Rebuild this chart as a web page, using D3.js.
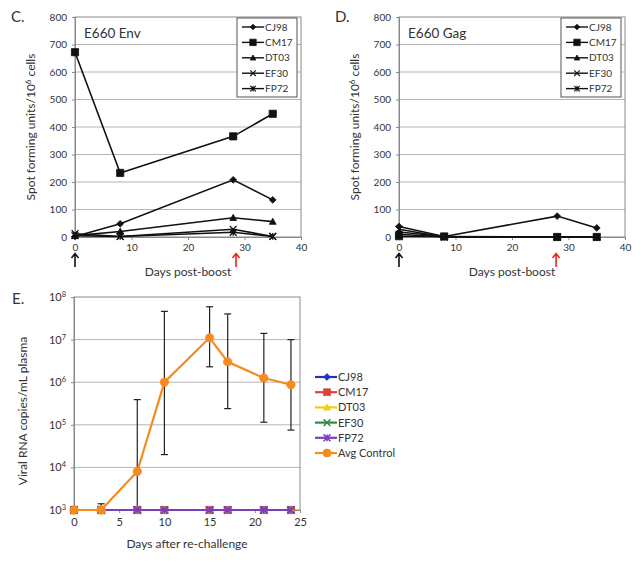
<!DOCTYPE html>
<html><head><meta charset="utf-8">
<script src="https://cdn.jsdelivr.net/npm/d3@7"></script>
<style>
body{margin:0;background:#fff}
svg{display:block}
text{font-family:Lato,"Open Sans",sans-serif;fill:#333}
</style>
</head><body>
<svg id="chart" width="641" height="563"></svg>
<script>
// ---------- data ----------
const seriesNames = ["CJ98", "CM17", "DT03", "EF30", "FP72"];
const seriesMarkers = ["diamond", "square", "triangle", "x", "star"];
const daysBoost = [0, 8, 28, 35];
const boostTicks = [0, 10, 20, 30, 40];
const spotTicks = [0, 100, 200, 300, 400, 500, 600, 700, 800];

const envCJ98 = [2, 48, 208, 135];
const envCM17 = [672, 233, 366, 448];
const envDT03 = [5, 20, 70, 56];
const envEF30 = [12, 2, 28, 2];
const envFP72 = [5, 2, 17, 2];

const gagCJ98 = [38, 2, 76, 33];
const gagCM17 = [3, 2, 0, 0];
const gagDT03 = [18, 2, 0, 0];
const gagEF30 = [10, 0, 0, 0];
const gagFP72 = [28, 0, 0, 0];

const arrowDaysC = [0, 28.5];
const arrowDaysD = [0, 27.8];
const arrowColors = ["#111", "#e8291c"];

const daysChallenge = [0, 3, 7, 10, 15, 17, 21, 24];
const challengeTicks = [0, 5, 10, 15, 20, 25];
const loadTicksExp = [3, 4, 5, 6, 7, 8];
const loadCJ98 = [1e3, 1e3, 1e3, 1e3, 1e3, 1e3, 1e3, 1e3];
const loadCM17 = [1e3, 1e3, 1e3, 1e3, 1e3, 1e3, 1e3, 1e3];
const loadDT03 = [1e3, 1e3, 1e3, 1e3, 1e3, 1e3, 1e3, 1e3];
const loadEF30 = [1e3, 1e3, 1e3, 1e3, 1e3, 1e3, 1e3, 1e3];
const loadFP72 = [1e3, 1e3, 1e3, 1e3, 1e3, 1e3, 1e3, 1e3];
const controlMean = [1e3, 1e3, 8.0e3, 1.0e6, 1.1e7, 3.0e6, 1.25e6, 8.7e5];
const controlUpper = [null, 1.4e3, 3.9e5, 4.6e7, 5.9e7, 4.0e7, 1.4e7, 1.0e7];
const controlLower = [null, 1e3, 1e3, 2.0e4, 2.3e6, 2.4e5, 1.15e5, 7.5e4];
const loadNames = ["CJ98", "CM17", "DT03", "EF30", "FP72", "Avg Control"];
const loadColors = ["#2233bb", "#e0403c", "#f4cc10", "#2e8a3e", "#7a3fc0", "#f58b1f"];
const loadMarkers = ["diamond", "square", "triangle", "x", "star", "circle"];

// ---------- helpers ----------
const svg = d3.select("#chart");
const GRID = "#b5b5b5", FRAME = "#8a8a8a";

function markerPath(type, s) {
  switch (type) {
    case "diamond": return `M0,${-s}L${s},0L0,${s}L${-s},0Z`;
    case "square": return `M${-s},${-s}H${s}V${s}H${-s}Z`;
    case "triangle": return `M0,${-s}L${s},${s * 0.8}L${-s},${s * 0.8}Z`;
    case "x": return `M${-s},${-s}L${s},${s}M${-s},${s}L${s},${-s}`;
    case "star": return `M${-s},${-s}L${s},${s}M${-s},${s}L${s},${-s}M0,${-s}V${s}`;
    case "circle": return d3.symbol(d3.symbolCircle, Math.PI * s * s)();
  }
}
function drawMarker(g, type, x, y, s, color, sw) {
  const open = type === "x" || type === "star";
  g.append("path").attr("transform", `translate(${x},${y})`)
    .attr("d", markerPath(type, s))
    .attr("fill", open ? "none" : color)
    .attr("stroke", color).attr("stroke-width", open ? sw : 0.8);
}

function spotPanel(opt) {
  const x = d3.scaleLinear().domain([0, 40]).range([opt.x0, opt.x1]);
  const y = d3.scaleLinear().domain([0, 800]).range([237, 17]);
  const g = svg.append("g");
  // gridlines
  g.selectAll(".gl").data(spotTicks.slice(1, -1)).join("line")
    .attr("x1", opt.x0).attr("x2", opt.x1).attr("y1", d => y(d)).attr("y2", d => y(d))
    .attr("stroke", GRID).attr("stroke-width", 1);
  g.append("rect").attr("x", opt.x0).attr("y", y(800)).attr("width", opt.x1 - opt.x0)
    .attr("height", y(0) - y(800)).attr("fill", "none").attr("stroke", FRAME);
  // axes
  const ya = d3.axisLeft(y).tickValues(spotTicks).tickSize(3).tickPadding(5);
  const yg = g.append("g").attr("transform", `translate(${opt.x0},0)`).call(ya);
  const xa = d3.axisBottom(x).tickValues(boostTicks).tickSize(3).tickPadding(4);
  const xg = g.append("g").attr("transform", `translate(0,${y(0)})`).call(xa);
  [yg, xg].forEach(a => {
    a.select(".domain").attr("stroke", FRAME);
    a.selectAll(".tick line").attr("stroke", FRAME);
    a.selectAll(".tick text").style("font-family", "Lato").style("font-size", "10px").attr("fill", "#444");
  });
  // series lines
  const line = d3.line().x((d, i) => x(daysBoost[i])).y(d => y(d));
  opt.series.forEach((vals, k) => {
    g.append("path").attr("d", line(vals)).attr("fill", "none")
      .attr("stroke", "#111").attr("stroke-width", 1.6);
  });
  opt.series.forEach((vals, k) => {
    vals.forEach((v, i) => drawMarker(g, seriesMarkers[k], x(daysBoost[i]), y(v),
      seriesMarkers[k] === "square" ? 3.6 : 3.4, "#111", 1.3));
  });
  // title
  g.append("text").attr("x", opt.x0 + 9).attr("y", 38).text(opt.title)
    .style("font-size", "13.5px").attr("fill", "#222");
  // panel letter
  g.append("text").attr("x", opt.x0 - 64).attr("y", 22).text(opt.letter)
    .style("font-size", "15px").attr("fill", "#222");
  // y label
  const yl = g.append("text").attr("transform", `translate(${opt.x0 - 40},127) rotate(-90)`)
    .attr("text-anchor", "middle").style("font-size", "12px").attr("fill", "#333");
  yl.append("tspan").text("Spot forming units/10");
  yl.append("tspan").text("6").attr("dy", -4).style("font-size", "8px");
  yl.append("tspan").text(" cells").attr("dy", 4);
  // x label
  g.append("text").attr("x", (opt.x0 + opt.x1) / 2).attr("y", 276).attr("text-anchor", "middle")
    .text("Days post-boost").style("font-size", "12px").attr("fill", "#333");
  // arrows
  opt.arrows.forEach((d, i) => {
    const ax = x(d);
    g.append("path").attr("d", `M${ax},267V254M${ax - 3.5},258L${ax},253.5L${ax + 3.5},258`)
      .attr("fill", "none").attr("stroke", arrowColors[i]).attr("stroke-width", 1.6);
  });
  // legend
  const lx = opt.x1 - 64, ly = 18;
  g.append("rect").attr("x", lx).attr("y", ly).attr("width", 60).attr("height", 79)
    .attr("fill", "#fff").attr("stroke", "#555").attr("stroke-width", 1);
  seriesNames.forEach((n, k) => {
    const yy = ly + 9 + k * 15.4;
    g.append("line").attr("x1", lx + 5).attr("x2", lx + 27).attr("y1", yy).attr("y2", yy)
      .attr("stroke", "#111").attr("stroke-width", 1.4);
    drawMarker(g, seriesMarkers[k], lx + 16, yy, seriesMarkers[k] === "square" ? 3.2 : 2.8, "#111", 1.1);
    g.append("text").attr("x", lx + 28).attr("y", yy + 3.5).text(n)
      .style("font-size", "10px").attr("fill", "#333");
  });
}

spotPanel({ x0: 75, x1: 301, title: "E660 Env", letter: "C.",
  series: [envCJ98, envCM17, envDT03, envEF30, envFP72], arrows: arrowDaysC });
spotPanel({ x0: 399, x1: 625, title: "E660 Gag", letter: "D.",
  series: [gagCJ98, gagCM17, gagDT03, gagEF30, gagFP72], arrows: arrowDaysD });

// ---------- panel E ----------
(function () {
  const x0 = 74, x1 = 300, yT = 297, yB = 510;
  const x = d3.scaleLinear().domain([0, 25]).range([x0, x1]);
  const y = d3.scaleLog().domain([1e3, 1e8]).range([yB, yT]);
  const g = svg.append("g");
  const decades = loadTicksExp.map(e => Math.pow(10, e));
  g.selectAll(".gl").data(decades.slice(1, -1)).join("line")
    .attr("x1", x0).attr("x2", x1).attr("y1", d => y(d)).attr("y2", d => y(d))
    .attr("stroke", GRID);
  g.append("rect").attr("x", x0).attr("y", yT).attr("width", x1 - x0).attr("height", yB - yT)
    .attr("fill", "none").attr("stroke", FRAME);
  const ya = d3.axisLeft(y).tickValues(decades).tickSize(3).tickPadding(5).tickFormat(() => "");
  const yg = g.append("g").attr("transform", `translate(${x0},0)`).call(ya);
  yg.selectAll(".tick text").each(function (d) {
    const t = d3.select(this);
    t.text(null).style("font-family", "Lato").style("font-size", "11px").attr("fill", "#444");
    t.append("tspan").text("10");
    t.append("tspan").text(String(Math.round(Math.log10(d)))).attr("dy", -4).style("font-size", "7.5px");
  });
  const xa = d3.axisBottom(x).tickValues(challengeTicks).tickSize(3).tickPadding(5);
  const xg = g.append("g").attr("transform", `translate(0,${yB})`).call(xa);
  xg.selectAll(".tick text").style("font-family", "Lato").style("font-size", "11px").attr("fill", "#444");
  [yg, xg].forEach(a => {
    a.select(".domain").attr("stroke", FRAME);
    a.selectAll(".tick line").attr("stroke", FRAME);
  });
  // error bars
  daysChallenge.forEach((d, i) => {
    const cx = x(d);
    const lo = controlLower[i], hi = controlUpper[i];
    if (hi != null) {
      g.append("line").attr("x1", cx).attr("x2", cx).attr("y1", y(controlMean[i])).attr("y2", y(hi))
        .attr("stroke", "#222").attr("stroke-width", 1.2);
      g.append("line").attr("x1", cx - 3.5).attr("x2", cx + 3.5).attr("y1", y(hi)).attr("y2", y(hi))
        .attr("stroke", "#222").attr("stroke-width", 1.2);
    }
    if (lo != null && lo < controlMean[i]) {
      g.append("line").attr("x1", cx).attr("x2", cx).attr("y1", y(controlMean[i])).attr("y2", y(lo))
        .attr("stroke", "#222").attr("stroke-width", 1.2);
      g.append("line").attr("x1", cx - 3.5).attr("x2", cx + 3.5).attr("y1", y(lo)).attr("y2", y(lo))
        .attr("stroke", "#222").attr("stroke-width", 1.2);
    }
  });
  const all = [loadCJ98, loadCM17, loadDT03, loadEF30, loadFP72, controlMean];
  const line = d3.line().x((d, i) => x(daysChallenge[i])).y(d => y(d));
  all.forEach((vals, k) => {
    g.append("path").attr("d", line(vals)).attr("fill", "none")
      .attr("stroke", loadColors[k]).attr("stroke-width", 2.2);
    vals.forEach((v, i) => drawMarker(g, loadMarkers[k], x(daysChallenge[i]), y(v),
      loadMarkers[k] === "circle" ? 4.2 : 3.6, loadColors[k], 1.6));
  });
  // labels
  g.append("text").attr("x", 12).attr("y", 304).text("E.").style("font-size", "15px").attr("fill", "#222");
  g.append("text").attr("transform", `translate(27,411) rotate(-90)`).attr("text-anchor", "middle")
    .text("Viral RNA copies/mL plasma").style("font-size", "12px").attr("fill", "#333");
  g.append("text").attr("x", (x0 + x1) / 2).attr("y", 548).attr("text-anchor", "middle")
    .text("Days after re-challenge").style("font-size", "12px").attr("fill", "#333");
  // legend
  loadNames.forEach((n, k) => {
    const yy = 377 + k * 15.2;
    g.append("line").attr("x1", 315).attr("x2", 337).attr("y1", yy).attr("y2", yy)
      .attr("stroke", loadColors[k]).attr("stroke-width", 2.2);
    drawMarker(g, loadMarkers[k], 327, yy, loadMarkers[k] === "circle" ? 4 : 3.4, loadColors[k], 1.5);
    g.append("text").attr("x", 338).attr("y", yy + 4).text(n)
      .style("font-size", "11px").attr("fill", "#333");
  });
})();
</script>
</body></html>
